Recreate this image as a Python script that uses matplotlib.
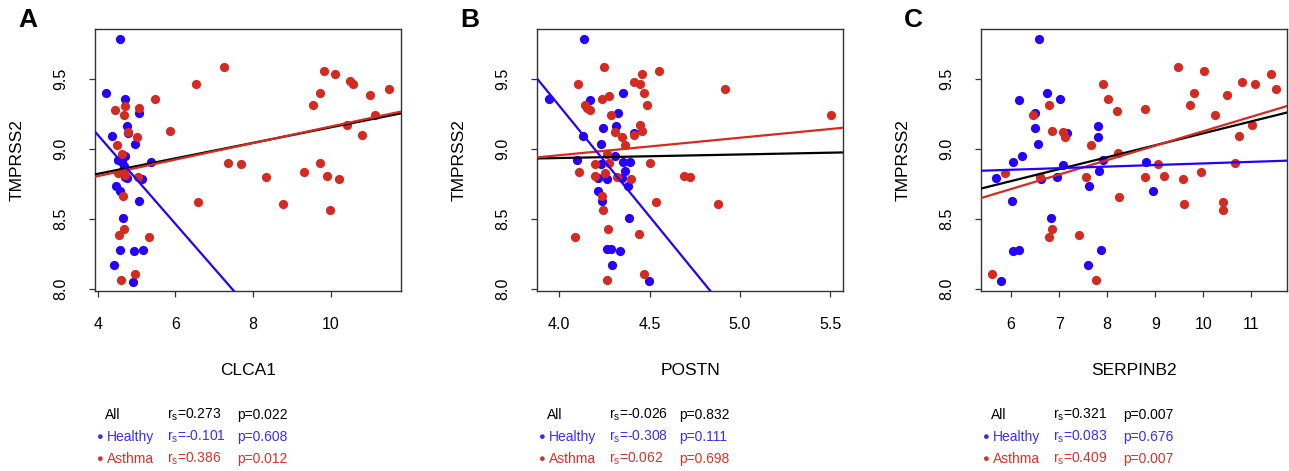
import matplotlib
matplotlib.use("Agg")
import matplotlib.pyplot as plt

plt.rcParams["font.family"] = ["Liberation Sans", "DejaVu Sans"]
plt.rcParams["mathtext.fontset"] = "custom"
plt.rcParams["mathtext.rm"] = "Liberation Sans"
plt.rcParams["mathtext.it"] = "Liberation Sans:italic"

# ---------------------------------------------------------------------------
# Data
# ---------------------------------------------------------------------------
genes = ["CLCA1", "POSTN", "SERPINB2"]
panel_letters = ["A", "B", "C"]

clca1_healthy_x = [4.57, 4.22, 4.69, 5.06, 4.75, 4.77, 4.38, 4.95, 4.71, 4.52, 5.37, 4.62, 4.68,
                   4.66, 4.75, 5.15, 4.48, 4.57, 5.05, 4.66, 4.57, 4.94, 5.17, 4.41, 4.91, 4.70]
clca1_healthy_y = [9.786, 9.40, 9.357, 9.26, 9.164, 9.117, 9.09, 9.033, 8.948, 8.919, 8.905, 8.91, 8.88,
                   8.85, 8.795, 8.786, 8.738, 8.698, 8.63, 8.507, 8.281, 8.271, 8.281, 8.171, 8.052, 8.80]
clca1_asthma_x = [7.24, 6.53, 9.82, 10.11, 10.49, 10.56, 11.49, 9.72, 11.01, 9.53, 11.12, 10.42, 10.80,
                  5.87, 5.47, 5.05, 4.69, 4.67, 4.45, 4.79, 5.02, 4.49, 4.63, 4.51, 4.71, 5.03,
                  7.35, 7.68, 9.72, 8.34, 9.30, 9.89, 10.20, 4.66, 6.57, 8.77, 9.97, 4.68, 4.56,
                  5.33, 4.95, 4.61]
clca1_asthma_y = [9.586, 9.464, 9.56, 9.536, 9.483, 9.462, 9.431, 9.398, 9.383, 9.314, 9.245, 9.171, 9.098,
                  9.129, 9.357, 9.29, 9.307, 9.243, 9.276, 9.121, 9.086, 9.029, 8.967, 8.826, 8.814, 8.80,
                  8.898, 8.89, 8.898, 8.80, 8.838, 8.807, 8.786, 8.662, 8.621, 8.607, 8.564, 8.431, 8.388,
                  8.369, 8.105, 8.064]

postn_healthy_x = [4.138, 3.945, 4.169, 4.351, 4.325, 4.244, 4.313, 4.414, 4.132, 4.230, 4.307, 4.101,
                   4.353, 4.390, 4.233, 4.215, 4.265, 4.366, 4.347, 4.382, 4.217, 4.237, 4.388, 4.263,
                   4.289, 4.335, 4.292, 4.494]
postn_healthy_y = [9.784, 9.359, 9.352, 9.401, 9.259, 9.152, 9.164, 9.116, 9.09, 9.033, 8.948, 8.919,
                   8.905, 8.905, 8.893, 8.796, 8.786, 8.841, 8.796, 8.739, 8.698, 8.632, 8.508, 8.283,
                   8.283, 8.273, 8.173, 8.055]
postn_asthma_x = [4.25, 4.103, 4.551, 4.458, 4.415, 4.445, 4.915, 4.471, 4.274, 4.485, 5.506, 4.449,
                  4.458, 4.142, 4.235, 4.154, 4.171, 4.289, 4.307, 4.415, 4.347, 4.366, 4.267, 4.502,
                  4.200, 4.274, 4.110, 4.200, 4.255, 4.322, 4.395, 4.693, 4.721, 4.235, 4.533, 4.879,
                  4.243, 4.270, 4.443, 4.090, 4.469, 4.267]
postn_asthma_y = [9.584, 9.463, 9.558, 9.534, 9.482, 9.461, 9.430, 9.397, 9.382, 9.314, 9.242, 9.171,
                  9.128, 9.314, 9.356, 9.290, 9.276, 9.242, 9.121, 9.097, 9.086, 9.029, 8.967, 8.898,
                  8.893, 8.898, 8.838, 8.808, 8.827, 8.80, 8.786, 8.808, 8.803, 8.663, 8.622, 8.608,
                  8.565, 8.432, 8.39, 8.371, 8.107, 8.067]

serpinb2_healthy_x = [6.576, 6.743, 7.021, 6.174, 6.5, 6.493, 7.174, 7.806, 7.813, 6.556, 6.229, 6.049,
                      8.813, 7.076, 7.924, 5.688, 6.951, 7.833, 6.625, 7.625, 8.944, 6.014, 6.833, 6.042,
                      6.167, 7.868, 7.611, 5.799]
serpinb2_healthy_y = [9.786, 9.402, 9.359, 9.352, 9.259, 9.15, 9.117, 9.164, 9.088, 9.033, 8.948, 8.907,
                      8.907, 8.888, 8.919, 8.795, 8.80, 8.84, 8.786, 8.736, 8.698, 8.631, 8.507, 8.269,
                      8.281, 8.281, 8.171, 8.055]
serpinb2_asthma_x = [9.465, 7.924, 10.014, 11.41, 10.81, 11.076, 11.507, 9.806, 10.486, 9.722, 8.028,
                     6.799, 8.208, 8.778, 6.458, 10.236, 6.861, 7.090, 7.118, 11.014, 10.75, 7.66, 8.222,
                     6.611, 5.875, 7.563, 8.785, 9.056, 9.18, 9.583, 9.958, 10.667, 8.243, 9.597, 10.41,
                     10.41, 6.861, 6.785, 7.424, 5.611, 7.764]
serpinb2_asthma_y = [9.586, 9.462, 9.56, 9.536, 9.479, 9.462, 9.431, 9.398, 9.383, 9.314, 9.356,
                     9.312, 9.274, 9.288, 9.243, 9.240, 9.129, 9.119, 9.086, 9.171, 9.095, 9.026, 8.969,
                     8.80, 8.826, 8.80, 8.80, 8.895, 8.807, 8.783, 8.838, 8.898, 8.66, 8.608, 8.622,
                     8.564, 8.431, 8.369, 8.388, 8.105, 8.064]

# regression lines as (intercept, slope), one per panel
fit_all = [(8.601, 0.0554), (8.834, 0.0254), (8.259, 0.0853)]
fit_healthy = [(10.375, -0.3184), (15.637, -1.582), (8.784, 0.0113)]
fit_asthma = [(8.570, 0.0591), (8.456, 0.1249), (8.095, 0.1032)]

# Spearman stats shown under each panel
rs_all = ["0.273", "-0.026", "0.321"]
p_all = ["0.022", "0.832", "0.007"]
rs_healthy = ["-0.101", "-0.308", "0.083"]
p_healthy = ["0.608", "0.111", "0.676"]
rs_asthma = ["0.386", "0.062", "0.409"]
p_asthma = ["0.012", "0.698", "0.007"]

x_ticks = [[4, 6, 8, 10], [4.0, 4.5, 5.0, 5.5], [6, 7, 8, 9, 10, 11]]
x_ticklabels = [["4", "6", "8", "10"], ["4.0", "4.5", "5.0", "5.5"], ["6", "7", "8", "9", "10", "11"]]
x_limits = [(3.93, 11.80), (3.877, 5.57), (5.375, 11.743)]
y_ticks = [8.0, 8.5, 9.0, 9.5]
y_ticklabels = ["8.0", "8.5", "9.0", "9.5"]
y_limits = (7.986, 9.857)

# ---------------------------------------------------------------------------
# Style / layout
# ---------------------------------------------------------------------------
BLUE = "#2600ff"
RED = "#d42a1f"
BLUE_TXT = "#3a2cff"
RED_TXT = "#d8322a"

W, H = 1289, 471
ax_left_px = [95, 537, 981]
ax_w_px, ax_top_px, ax_bot_px = 306, 29, 291

points = [
    (clca1_healthy_x, clca1_healthy_y, clca1_asthma_x, clca1_asthma_y),
    (postn_healthy_x, postn_healthy_y, postn_asthma_x, postn_asthma_y),
    (serpinb2_healthy_x, serpinb2_healthy_y, serpinb2_asthma_x, serpinb2_asthma_y),
]

fig = plt.figure(figsize=(W / 100, H / 100), dpi=100)

for i in range(3):
    left = ax_left_px[i]
    ax = fig.add_axes([left / W, (H - ax_bot_px) / H,
                       ax_w_px / W, (ax_bot_px - ax_top_px) / H])
    hx, hy, ax_x, ax_y = points[i]

    ax.scatter(hx, hy, s=44, color=BLUE, linewidths=0, zorder=2)
    ax.scatter(ax_x, ax_y, s=44, color=RED, linewidths=0, zorder=2)

    for (b, m), col in [(fit_all[i], "black"), (fit_asthma[i], RED), (fit_healthy[i], BLUE)]:
        ax.axline((0, b), slope=m, color=col, linewidth=1.6, zorder=3)

    ax.set_xlim(*x_limits[i])
    ax.set_ylim(*y_limits)
    ax.set_xticks(x_ticks[i], x_ticklabels[i])
    ax.set_yticks(y_ticks, y_ticklabels)
    ax.tick_params(axis="both", length=4, width=0.9, color="#333333",
                   labelsize=11.5, pad=15)
    for lab in ax.get_yticklabels():
        lab.set_rotation(90)
        lab.set_va("center")
    for sp in ax.spines.values():
        sp.set_color("#333333")
        sp.set_linewidth(1.0)

    ax.set_xlabel(genes[i], fontsize=12.5)
    ax.xaxis.set_label_coords(0.5, -(363 - ax_bot_px) / (ax_bot_px - ax_top_px))
    ax.set_ylabel("TMPRSS2", fontsize=12.5)
    ax.yaxis.set_label_coords(-70 / ax_w_px, 0.5)

    # panel letter
    fig.text((left - 77) / W, 1 - 20 / H, panel_letters[i], fontsize=19,
             fontweight="bold", ha="left", va="center")

    # stats block below the panel
    rows = [
        ("All", rs_all[i], p_all[i], "black", 415, False),
        ("Healthy", rs_healthy[i], p_healthy[i], BLUE_TXT, 437, True),
        ("Asthma", rs_asthma[i], p_asthma[i], RED_TXT, 459, True),
    ]
    for name, rs, p, col, ypx, dot in rows:
        yf = 1 - ypx / H
        if dot:
            fig.text((left + 4) / W, yf, "\u25cf", color=col, fontsize=8,
                     ha="center", va="center")
            fig.text((left + 12) / W, yf, name, color=col, fontsize=10, va="center")
        else:
            fig.text((left + 10) / W, yf, name, color=col, fontsize=10, va="center")
        fig.text((left + 72) / W, yf, r"r$_\mathregular{s}$=" + rs, color=col,
                 fontsize=10, va="center")
        fig.text((left + 142) / W, yf, "p=" + p, color=col, fontsize=10, va="center")

fig.savefig("out.png", dpi=100)
